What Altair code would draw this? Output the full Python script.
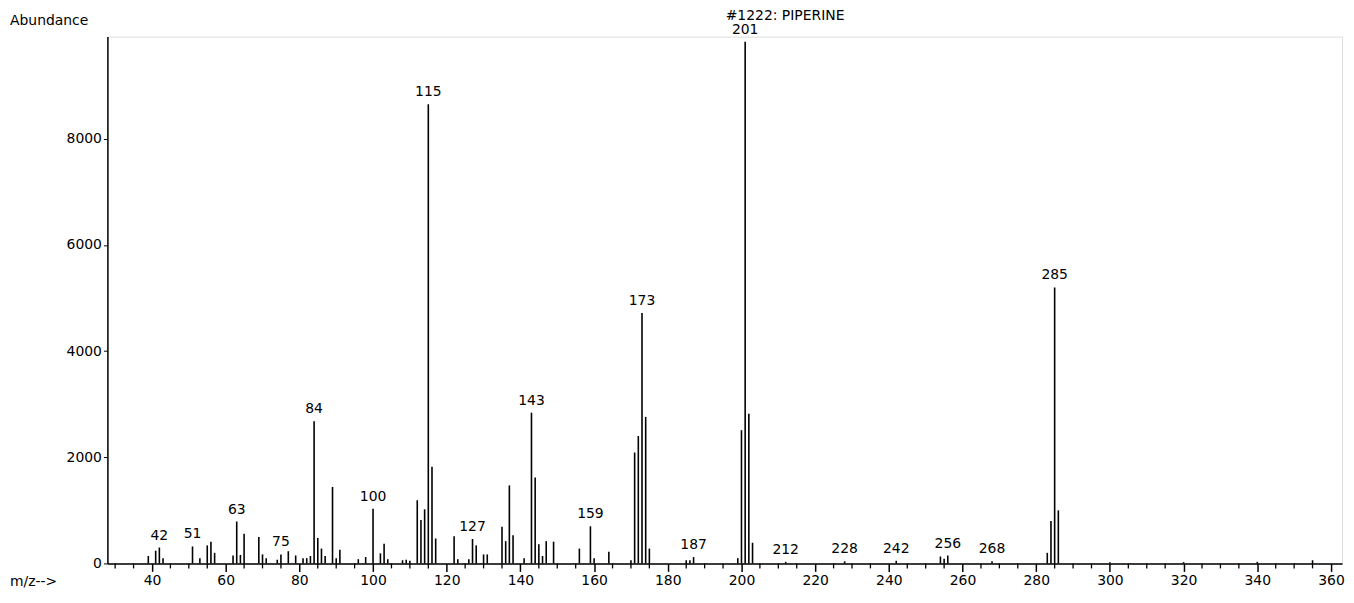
import altair as alt
import pandas as pd

mz = [39,41,42,43,51,53,55,56,57,62,63,64,65,69,70,71,74,75,77,79,81,82,83,84,85,86,87,89,90,91,96,98,100,102,103,104,108,109,110,
      112,113,114,115,116,117,122,123,126,127,128,130,131,135,136,137,138,141,143,144,145,146,147,149,156,159,160,164,170,171,172,173,174,175,
      185,186,187,199,200,201,202,203,212,228,242,254,255,256,268,283,284,285,286,300,320,340,355]
ab = [140,240,300,100,320,100,340,410,200,150,790,160,560,500,170,100,70,170,230,150,100,100,140,2680,480,280,140,1440,100,260,80,120,1030,190,370,80,60,70,50,
      1190,820,1020,8650,1820,470,510,80,80,460,340,170,170,690,420,1470,530,100,2840,1620,360,140,420,410,280,700,100,220,60,2090,2400,4720,2760,280,
      60,60,120,100,2510,9830,2820,390,30,40,50,130,90,150,40,200,800,5200,1000,20,25,30,60]
label_mz = [42,51,63,75,84,100,115,127,143,159,173,187,201,212,228,242,256,268,285]
x_major = list(range(40, 361, 20))
x_minor = [v for v in range(30, 365, 5) if v % 20 != 0]
y_ticks = [0, 2000, 4000, 6000, 8000]

df = pd.DataFrame({"mz": mz, "ab": ab})
lab = df[df.mz.isin(label_mz)].copy()
lab["txt"] = lab.mz.astype(str)
minor = pd.DataFrame({"mz": x_minor})

F = "DejaVu Sans"
xs = alt.Scale(domain=[27.9, 363], nice=False, zero=False)
ys = alt.Scale(domain=[0, 9925], nice=False)

bars = alt.Chart(df).mark_rule(color="black", strokeWidth=1.6).encode(
    x=alt.X("mz:Q", scale=xs, axis=alt.Axis(
        values=x_major, title=None, grid=False, domainColor="black", domainWidth=1.5,
        tickColor="black", tickSize=8, tickWidth=1.5, labelFont=F, labelFontSize=14,
        labelColor="black", labelPadding=2)),
    y=alt.Y("ab:Q", scale=ys, axis=alt.Axis(
        values=y_ticks, format="d", title=None, grid=False, domainColor="black",
        domainWidth=1.5, tickColor="black", tickSize=4, labelFont=F, labelFontSize=14,
        labelColor="black")),
    y2=alt.datum(0),
)
mticks = alt.Chart(minor).mark_rule(color="black", strokeWidth=1.3).encode(
    x=alt.X("mz:Q", scale=xs), y=alt.value(530), y2=alt.value(535))
texts = alt.Chart(lab).mark_text(font=F, fontSize=14, dy=-12).encode(
    x=alt.X("mz:Q", scale=xs), y=alt.Y("ab:Q", scale=ys), text="txt:N")

tdf = pd.DataFrame({"t": ["Abundance", "m/z-->", "#1222: PIPERINE"], "x": [-98, -98, 622], "y": [-16, 549, -21]})
ann = alt.Chart(tdf).mark_text(font=F, fontSize=14, align="left", color="black").encode(
    x=alt.value(0), y=alt.value(0), text="t:N")
ann = alt.Chart(tdf).mark_text(font=F, fontSize=14, align="left", color="black").encode(
    x=alt.X("x:Q", scale=None), y=alt.Y("y:Q", scale=None), text="t:N")

chart = alt.layer(bars, mticks, texts, ann).properties(
    width=1242, height=530,
    autosize=alt.AutoSizeParams(type="none"),
    padding={"left": 100, "top": 27, "right": 4, "bottom": 30},
).configure_view(stroke=None).configure(background="white")

chart.save("out.html", embed_options={"renderer": "svg", "actions": False})
